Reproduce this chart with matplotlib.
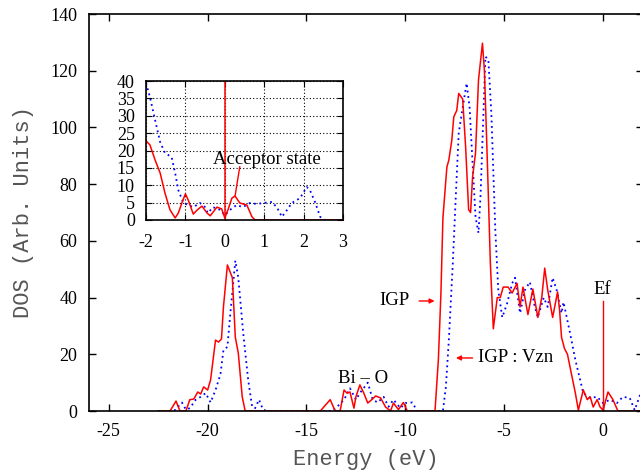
import matplotlib
matplotlib.use("Agg")
import matplotlib.pyplot as plt

plt.rcParams["axes.unicode_minus"] = False

# ---- main plot data (energy eV, DOS) ----
red_E = [-22.5, -21.9, -21.6, -21.4, -21.1, -20.9, -20.7, -20.5, -20.35, -20.2, -20.0, -19.85,
         -19.6, -19.45, -19.3, -19.2, -19.0, -18.9, -18.75, -18.6, -18.45, -18.25, -18.1,
         -14.3, -13.8, -13.55, -13.3, -13.1, -12.95, -12.8, -12.6, -12.5, -12.3, -12.1, -11.9,
         -11.7, -11.5, -11.25, -11.0, -10.75, -10.6, -10.35, -10.1, -9.9,
         -8.5, -8.33, -8.2, -8.1, -7.9, -7.8, -7.65, -7.55, -7.4, -7.3, -7.1, -6.95, -6.8, -6.7,
         -6.6, -6.45, -6.3, -6.1, -6.0, -5.85, -5.7, -5.55, -5.35, -5.2, -5.05, -4.8, -4.6,
         -4.35, -4.2, -4.05, -3.8, -3.55, -3.3, -3.1, -2.95, -2.8, -2.55, -2.3, -2.2, -2.1,
         -1.95, -1.8, -1.67, -1.4, -1.25, -1.0, -0.8, -0.65, -0.5, -0.3, -0.15, 0.0, 0.25,
         0.5, 0.75, 2.0]
red_D = [0, 0, 3.5, 0, 0, 4, 4.2, 6.7, 6, 8.5, 7.4, 11,
         25, 24.3, 25.4, 36.7, 51.5, 49.7, 47, 26, 20.5, 5, 0,
         0, 4, 0, 0, 7.4, 6.3, 6.7, 1, 5, 9.2, 6.3, 2.8,
         4, 5.3, 4.6, 1.4, 0, 2.8, 0.5, 3, 0,
         0, 18, 41.6, 68, 86, 88.5, 95.5, 103.7, 106, 112, 110, 93, 71, 70,
         82.5, 91, 116.7, 129.7, 120, 87.4, 52, 29, 40, 40, 43.7, 43.7, 41.6,
         45, 36.7, 43.7, 34, 43, 33, 40, 50.4, 42.7, 33, 42, 35.6, 26,
         22, 20, 15.5, 6.3, 0.3, 7.4, 4, 5, 1.4, 4, 1.4, 0.3, 6.7,
         4, 0, 0]

blue_E = [-22.5, -21.7, -21.5, -21.3, -21.1, -20.9, -20.6, -20.35, -20.1, -19.85, -19.6, -19.35,
          -19.2, -19.0, -18.85, -18.6, -18.45, -18.2, -17.95, -17.75, -17.6, -17.4, -17.2, -17.0,
          -13.7, -13.45, -13.1, -12.8, -12.5, -12.3, -11.9, -11.65, -11.4, -11.1, -10.85, -10.6,
          -10.25, -10.0, -9.65, -9.4,
          -8.1, -7.95, -7.8, -7.6, -7.45, -7.3, -7.1, -6.9, -6.75, -6.6, -6.45, -6.3, -6.2,
          -6.05, -5.95, -5.8, -5.65, -5.45, -5.3, -5.1, -4.85, -4.6, -4.45, -4.2, -3.95, -3.7,
          -3.45, -3.3, -3.0, -2.8, -2.55, -2.35, -2.1, -2.0, -1.67, -1.4, -1.16, -1.0, -0.65,
          -0.3, 0.0, 0.35, 0.7, 1.0, 1.35, 1.6, 1.87, 2.0]
blue_D = [0, 0, 1.5, 3, 0.5, 1, 4, 5, 6.3, 3, 7.4, 13,
          21.5, 22.6, 34.5, 53, 47, 27.5, 11, 1.5, 1, 4, 0.5, 0,
          0, 1.5, 4, 8, 4, 6.3, 10, 4, 3, 5, 1.5, 4,
          1, 2.8, 3, 0,
          0, 8.5, 25, 52, 75.5, 98, 107, 115.6, 107, 87.4, 68.4, 62.8, 75.5,
          105, 125, 123.8, 105, 63.8, 42.7, 33, 38, 45, 47, 34.5, 42.7, 45.5,
          36.7, 33, 40, 36.7, 47, 42.7, 34.5, 38.4, 27.5, 18, 11, 6.3, 4.6,
          5, 2.8, 4, 2.8, 5, 4.6, 0.3, 5.6, 7]

# ---- inset data ----
ired_E = [-2.0, -1.9, -1.77, -1.64, -1.52, -1.39, -1.26, -1.18, -1.08, -1.0, -0.93, -0.8,
          -0.7, -0.58, -0.45, -0.37, -0.2, -0.08, 0.0, 0.08, 0.18, 0.26, 0.38, 0.56, 0.69,
          0.77, 3.0]
ired_D = [22.8, 21.6, 17.3, 13.5, 7.8, 2.9, 0.6, 2, 5.2, 7.5, 5.8, 1.7,
          2.9, 4, 2, 1.2, 3.7, 3.2, 0.6, 2.9, 6.3, 6.9, 4.9, 4.3, 0.9,
          0, 0]
iblue_E = [-2.0, -1.9, -1.77, -1.64, -1.52, -1.35, -1.26, -1.18, -1.05, -0.93, -0.8, -0.63,
           -0.5, -0.43, -0.3, -0.12, 0.0, 0.13, 0.3, 0.46, 0.64, 0.82, 0.97, 1.2, 1.33, 1.45,
           1.58, 1.7, 1.91, 2.08, 2.16, 2.3, 2.42, 2.55, 3.0]
iblue_D = [39.4, 35.4, 28.8, 22.4, 19.3, 18.1, 13.5, 8.6, 4.9, 4.3, 3.7, 4.9,
           3.7, 2, 3.7, 2.9, 1.4, 2.9, 4.3, 3.7, 4.9, 4.6, 4.9, 5.2, 3.5, 0.9,
           2.9, 4.9, 6.3, 9.5, 8.6, 4.9, 0.9, 0, 0]

main_xticks = [-25, -20, -15, -10, -5, 0]
main_yticks = [0, 20, 40, 60, 80, 100, 120, 140]
inset_xticks = [-2, -1, 0, 1, 2, 3]
inset_yticks = [0, 5, 10, 15, 20, 25, 30, 35, 40]

RED = "#ff0000"
BLUE = "#0000ff"
SERIF = "Liberation Serif"
MONO = "Liberation Mono"
TICK_FS = 13
ANN_FS = 13.5

fig = plt.figure(figsize=(6.4, 4.72), dpi=100)
W, H = 640, 472

def pos(l, r, t, b):
    return [l / W, 1 - b / H, (r - l) / W, (b - t) / H]

ax = fig.add_axes(pos(89, 642.6, 14, 411))
ax.plot(blue_E, blue_D, color=BLUE, lw=1.3, ls=(0, (1, 2)))
ax.plot(red_E, red_D, color=RED, lw=1.1)
ax.set_xlim(-26, 2)
ax.set_ylim(0, 140)
ax.set_xticks(main_xticks)
ax.set_yticks(main_yticks)
ax.tick_params(direction="in", length=5, width=1, top=True, right=True,
               labelsize=TICK_FS)
ax.tick_params(axis="x", pad=9)
ax.tick_params(axis="y", pad=8.5)
for lab in ax.get_xticklabels() + ax.get_yticklabels():
    lab.set_fontfamily(SERIF)
for s in ax.spines.values():
    s.set_linewidth(1.2)
ax.set_xlabel("Energy (eV)", family=MONO, fontsize=15.8, color="#555555", labelpad=6)
ax.set_ylabel("DOS (Arb. Units)", family=MONO, fontsize=15.8, color="#555555", labelpad=12)

# annotations
ax.text(-9.8, 38.8, "IGP", family=SERIF, fontsize=ANN_FS, ha="right", va="center")
ax.annotate("", xy=(-8.38, 38.8), xytext=(-9.44, 38.8),
            arrowprops=dict(arrowstyle="-|>", color=RED, lw=1, mutation_scale=7))
ax.text(-6.3, 18.7, "IGP : Vzn", family=SERIF, fontsize=ANN_FS, ha="left", va="center")
ax.annotate("", xy=(-7.58, 18.7), xytext=(-6.46, 18.7),
            arrowprops=dict(arrowstyle="-|>", color=RED, lw=1, mutation_scale=7))
ax.text(-12.15, 11.3, "Bi – O", family=SERIF, fontsize=ANN_FS, ha="center", va="center")
ax.text(-0.05, 42.7, "Ef", family=SERIF, fontsize=ANN_FS, ha="center", va="center")
ax.plot([0, 0], [0, 38.8], color=RED, lw=1)

# inset
ins = fig.add_axes(pos(146, 343, 81, 220))
ins.plot(iblue_E, iblue_D, color=BLUE, lw=1.3, ls=(0, (1, 2)))
ins.plot(ired_E, ired_D, color=RED, lw=1.1)
ins.axvline(0, color=RED, lw=1.1)
ins.set_xlim(-2, 3)
ins.set_ylim(0, 40)
ins.set_xticks(inset_xticks)
ins.set_yticks(inset_yticks)
ins.grid(True, color="black", ls=(0, (1, 2)), lw=0.8)
ins.tick_params(direction="in", length=4, top=True, right=True, labelsize=TICK_FS)
ins.tick_params(axis="x", pad=10)
ins.tick_params(axis="y", pad=8)
for lab in ins.get_xticklabels() + ins.get_yticklabels():
    lab.set_fontfamily(SERIF)
for s in ins.spines.values():
    s.set_linewidth(1.2)
ins.plot([0.26, 0.38], [6.9, 15.3], color=RED, lw=1)
ins.text(-0.3, 17.5, "Acceptor state", family=SERIF, fontsize=ANN_FS, ha="left", va="center")

fig.savefig("out.png", dpi=100)
